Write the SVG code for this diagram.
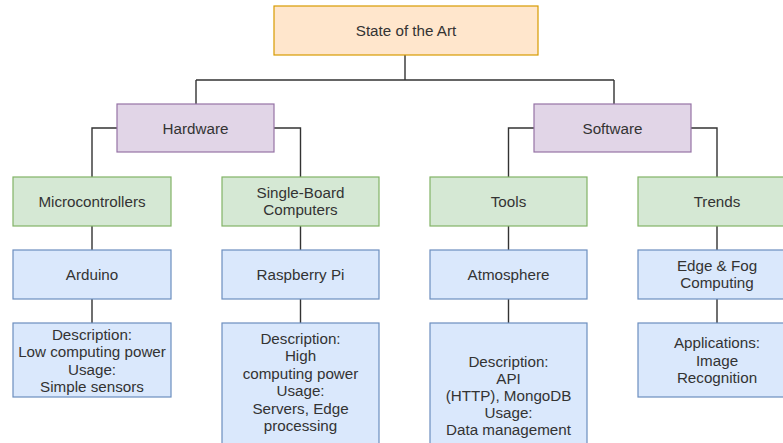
<svg xmlns="http://www.w3.org/2000/svg" width="783" height="443" viewBox="0 0 783 443">
<style>
text{font-family:"Liberation Sans",Arial,sans-serif;font-size:15.2px;fill:#333;text-anchor:middle}
.root{fill:#ffe6cc;stroke:#d79b00;stroke-width:1.2}
.cat{fill:#e1d5e7;stroke:#9673a6;stroke-width:1.2}
.sub{fill:#d5e8d4;stroke:#82b366;stroke-width:1.2}
.item{fill:#dae8fc;stroke:#6c8ebf;stroke-width:1.2}
.edge{fill:none;stroke:#333;stroke-width:1.4}
</style>
<rect width="783" height="443" fill="#fff"/>
<g id="connectors">
<path class="edge" d="M405 55V80M196 80H614M196 80V104M614 80V104"/>
<path class="edge" d="M117 128H92V177M274 128H300.5V177M534 128H508.5V177M691 128H717V177"/>
<path class="edge" d="M92 226V250M300.5 226V250M508.5 226V250M717 226V250"/>
<path class="edge" d="M92 299V323M300.5 299V323M508.5 299V323M717 299V323"/>
</g>
<g id="root"><rect class="root" x="274" y="6" width="264" height="49"/><text x="406" y="35.5">State of the Art</text></g>
<g id="hardware"><rect class="cat" x="117" y="104" width="157" height="48"/><text x="195.5" y="133.5">Hardware</text></g>
<g id="software"><rect class="cat" x="534" y="104" width="157" height="48"/><text x="612.5" y="133.5">Software</text></g>
<g id="microcontrollers"><rect class="sub" x="13" y="177" width="158" height="49"/><text x="92" y="206.5">Microcontrollers</text></g>
<g id="sbc"><rect class="sub" x="222" y="177" width="157" height="49"/><text x="300.5" y="197.5">Single-Board</text><text x="300.5" y="215">Computers</text></g>
<g id="tools"><rect class="sub" x="430" y="177" width="157" height="49"/><text x="508.5" y="206.5">Tools</text></g>
<g id="trends"><rect class="sub" x="638" y="177" width="158" height="49"/><text x="717" y="206.5">Trends</text></g>
<g id="arduino"><rect class="item" x="13" y="250" width="158" height="49"/><text x="92" y="279.5">Arduino</text></g>
<g id="raspberry"><rect class="item" x="222" y="250" width="157" height="49"/><text x="300.5" y="279.5">Raspberry Pi</text></g>
<g id="atmosphere"><rect class="item" x="430" y="250" width="157" height="49"/><text x="508.5" y="279.5">Atmosphere</text></g>
<g id="edgefog"><rect class="item" x="638" y="250" width="158" height="49"/><text x="717" y="270.5">Edge &amp; Fog</text><text x="717" y="288">Computing</text></g>
<g id="arduino-desc"><rect class="item" x="13" y="323" width="158" height="74"/>
<text x="92" y="339.5">Description:</text><text x="92" y="357">Low computing power</text><text x="92" y="374.5">Usage:</text><text x="92" y="392">Simple sensors</text></g>
<g id="raspberry-desc"><rect class="item" x="222" y="323" width="157" height="130"/>
<text x="300.5" y="343.5">Description:</text><text x="300.5" y="361">High</text><text x="300.5" y="378.5">computing power</text><text x="300.5" y="396">Usage:</text><text x="300.5" y="413.5">Servers, Edge</text><text x="300.5" y="431">processing</text></g>
<g id="atmosphere-desc"><rect class="item" x="430" y="323" width="157" height="130"/>
<text x="508.5" y="366.5">Description:</text><text x="508.5" y="383.5">API</text><text x="508.5" y="400.5">(HTTP), MongoDB</text><text x="508.5" y="417.5">Usage:</text><text x="508.5" y="434.5">Data management</text></g>
<g id="applications"><rect class="item" x="638" y="323" width="158" height="74"/>
<text x="717" y="348">Applications:</text><text x="717" y="365.5">Image</text><text x="717" y="383">Recognition</text></g>
</svg>
